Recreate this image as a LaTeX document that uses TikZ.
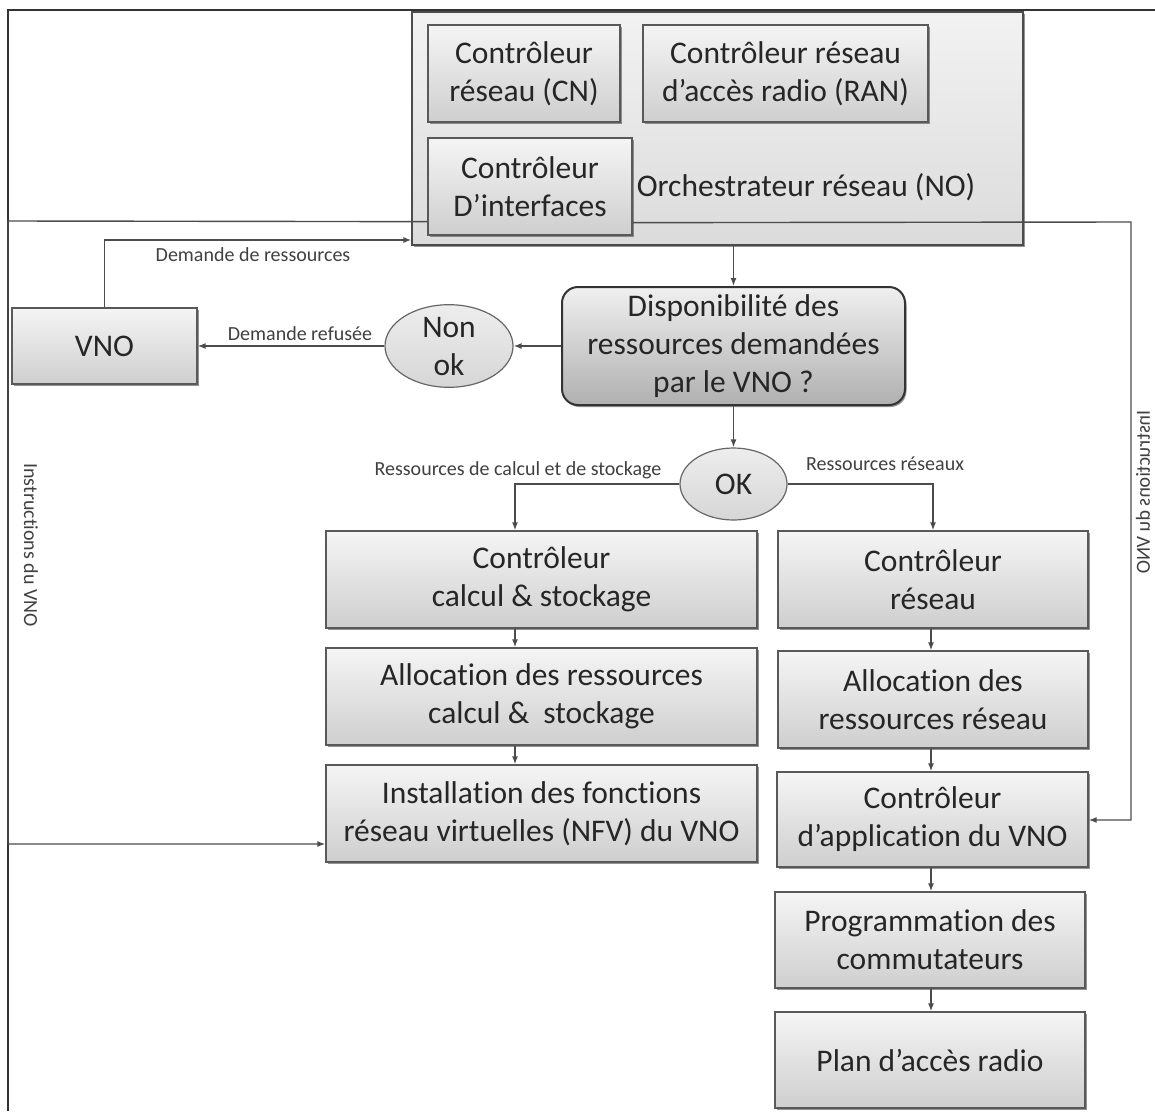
\documentclass[tikz,border=0pt]{standalone}
\usepackage{fontspec}
\setmainfont{Carlito}[RawFeature={-liga;-clig;-dlig}]
\usetikzlibrary{shadows,arrows.meta,calc,shapes.geometric}

\begin{document}
\begin{tikzpicture}[x=1pt,y=-1pt,
  mainfont/.style={font=\fontsize{31.5}{38}\selectfont},
  smallfont/.style={font=\fontsize{20}{24}\selectfont},
  box/.style={draw=black!65, line width=1.3pt, top color=gray!8, bottom color=gray!38,
    drop shadow={shadow xshift=1.5pt,shadow yshift=-2pt,fill=black!60,opacity=0.7},
    align=center, mainfont, text=black!85, inner sep=0pt},
  orch/.style={draw=black!70, line width=1.3pt, top color=gray!10, bottom color=gray!28,
    drop shadow={shadow xshift=1.5pt,shadow yshift=-2pt,fill=black!60,opacity=0.7}, inner sep=0pt},
  decision/.style={draw=black!80, line width=2pt, rounded corners=16pt, top color=gray!12, bottom color=gray!62,
    drop shadow={shadow xshift=1.5pt,shadow yshift=-2pt,fill=black!60,opacity=0.7},
    align=center, mainfont, text=black!85, inner sep=0pt},
  oval/.style={ellipse, draw=black!60, line width=1.2pt, top color=gray!14, bottom color=gray!32,
    align=center, mainfont, text=black!85, inner sep=0pt},
  conn/.style={draw=black!70, line width=1.4pt},
  arr/.style={conn, -{Latex[length=8pt,width=6pt]}},
  lbl/.style={smallfont, text=black!75, inner sep=0pt},
]
\useasboundingbox (0,0) rectangle (1155,1111);
\fill[white] (0,0) rectangle (1155,1111);

% orchestrator
\node[orch, minimum width=611, minimum height=233] (no) at (717.5,128.5) {};
\node[box, minimum width=192, minimum height=97] (cn) at (524,73.5) {Contrôleur\\réseau (CN)};
\node[box, minimum width=285, minimum height=97] (ran) at (785.5,73.5) {Contrôleur réseau\\d'accès radio (RAN)};
\node[box, minimum width=204, minimum height=97] (di) at (530,186.5) {Contrôleur\\D’interfaces};
\node[mainfont, text=black!85, inner sep=0pt] (orchlbl) at (806,187) {Orchestrateur réseau (NO)};

% decision
\node[decision, minimum width=343, minimum height=118] (dispo) at (733.5,346) {Disponibilité des\\ressources demandées\\par le VNO ?};
\node[oval, minimum width=128, minimum height=74] (nonok) at (449,346) {Non\\ok};
\node[box, minimum width=185, minimum height=76] (vno) at (104.5,346) {VNO};
\node[oval, minimum width=107, minimum height=72] (ok) at (733.5,484) {OK};

% left column
\node[box, minimum width=431, minimum height=97] (cs) at (541.5,579.5) {Contrôleur\\calcul \& stockage};
\node[box, minimum width=431, minimum height=97] (ar) at (541.5,696.5) {Allocation des ressources\\calcul \&\ \ stockage};
\node[box, minimum width=431, minimum height=97] (ins) at (541.5,813.5) {Installation des fonctions\\réseau virtuelles (NFV) du VNO};

% right column
\node[box, minimum width=310, minimum height=97] (cr) at (933,579.5) {Contrôleur\\réseau};
\node[box, minimum width=310, minimum height=97] (arr) at (933,699.5) {Allocation des\\ressources réseau};
\node[box, minimum width=311, minimum height=95] (capp) at (932.5,819.5) {Contrôleur\\d’application du VNO};
\node[box, minimum width=310, minimum height=96] (prog) at (930,940) {Programmation des\\commutateurs};
\node[box, minimum width=310, minimum height=96] (plan) at (930,1060) {Plan d’accès radio};

% frame
\draw[line width=2.6pt, black!80] (1155,10) -- (8,10) -- (8,1111);

% coordinates
\coordinate (lt) at (8,221);
\coordinate (lb) at (8,844);
\coordinate (rt) at (1131,222);
\coordinate (rb) at (1131,820);
\coordinate (dr) at (104.5,240);
\coordinate (lx) at (515,0);
\coordinate (rx) at (931,0);

% connectors
\draw[arr] ($(di.south west)+(0,-14)$) -- (lt) -- (lb) -- (lb -| ins.west);
\draw[arr] ($(di.south east)+(0,-13)$) -- (rt) -- (rb) -- (rb -| capp.east);
\draw[arr] (vno.north) -- (dr) -- (dr -| no.west);
\draw[arr] (dispo.north |- no.south) -- (dispo.north);
\draw[arr] (dispo.west) -- (nonok.east);
\draw[arr] (nonok.west) -- (vno.east);
\draw[arr] (dispo.south) -- (ok.north);
\draw[arr] (ok.west) -- (ok.west -| lx) -- (cs.north -| lx);
\draw[arr] (ok.east) -| (cr.north);
\draw[arr] (cs.south -| lx) -- (ar.north -| lx);
\draw[arr] (ar.south -| lx) -- (ins.north -| lx);
\draw[arr] (cr.south -| rx) -- (arr.north -| rx);
\draw[arr] (arr.south -| rx) -- (capp.north -| rx);
\draw[arr] (capp.south -| rx) -- (prog.north -| rx);
\draw[arr] (prog.south -| rx) -- (plan.north -| rx);

% labels
\node[lbl] (l1) at (253,255) {Demande de ressources};
\node[lbl] (l2) at (300,334) {Demande refusée};
\node[lbl] (l3) at (518,470) {Ressources de calcul et de stockage};
\node[lbl] (l4) at (885,464) {Ressources réseaux};
\node[lbl, rotate=-90] (l5) at (31,545) {Instructions du VNO};
\node[lbl, xscale=-1, rotate=-90] (l6) at (1143,492) {Instructions du VNO};
\end{tikzpicture}
\end{document}
